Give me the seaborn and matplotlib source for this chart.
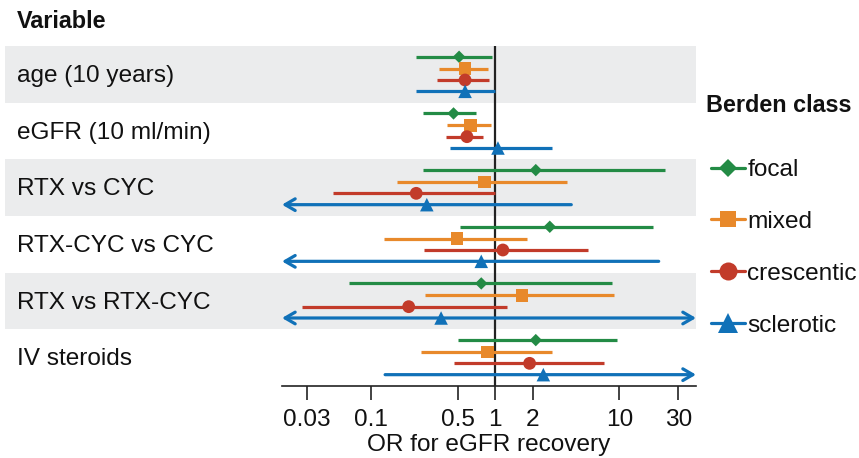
import numpy as np
import pandas as pd
import matplotlib
matplotlib.use("Agg")
import matplotlib.pyplot as plt
import matplotlib.transforms as mtransforms
from matplotlib.lines import Line2D
import seaborn as sns

# ---------------- data ----------------
variables = ["age (10 years)", "eGFR (10 ml/min)", "RTX vs CYC",
             "RTX-CYC vs CYC", "RTX vs RTX-CYC", "IV steroids"]
classes = ["focal", "mixed", "crescentic", "sclerotic"]

focal_or = [0.51, 0.46, 2.12, 2.75, 0.77, 2.12]
focal_lo = [0.23, 0.26, 0.26, 0.52, 0.066, 0.50]
focal_hi = [0.94, 0.70, 23.2, 18.6, 8.7, 9.5]

mixed_or = [0.57, 0.63, 0.82, 0.49, 1.64, 0.86]
mixed_lo = [0.35, 0.41, 0.16, 0.127, 0.27, 0.25]
mixed_hi = [0.87, 0.92, 3.8, 1.81, 9.1, 2.85]

cres_or = [0.57, 0.59, 0.23, 1.15, 0.20, 1.89]
cres_lo = [0.34, 0.40, 0.049, 0.265, 0.0275, 0.46]
cres_hi = [0.89, 0.79, 1.0, 5.6, 1.24, 7.6]

scl_or = [0.57, 1.05, 0.28, 0.77, 0.365, 2.44]
scl_lo = [0.23, 0.43, 0.005, 0.005, 0.005, 0.129]
scl_hi = [1.0, 2.85, 4.1, 20.8, 200.0, 200.0]

tick_values = [0.03, 0.1, 0.5, 1, 2, 10, 30]
tick_labels = ["0.03", "0.1", "0.5", "1", "2", "10", "30"]

# ---------------- style ----------------
colors = {"focal": "#238b45", "mixed": "#e8892b",
          "crescentic": "#c23b2a", "sclerotic": "#1071b8"}
markers = {"focal": "D", "mixed": "s", "crescentic": "o", "sclerotic": "^"}
sizes = {"focal": 40, "mixed": 85, "crescentic": 85, "sclerotic": 95}
offsets = {"focal": 0.19, "mixed": 0.40, "crescentic": 0.60, "sclerotic": 0.80}

sns.set_theme(style="white")
plt.rcParams["font.family"] = ["Liberation Sans", "DejaVu Sans"]
FS = 17.6
FSB = 16.8

series = {
    "focal": (focal_or, focal_lo, focal_hi),
    "mixed": (mixed_or, mixed_lo, mixed_hi),
    "crescentic": (cres_or, cres_lo, cres_hi),
    "sclerotic": (scl_or, scl_lo, scl_hi),
}
records = []
for cls in classes:
    ors, los, his = series[cls]
    for i, var in enumerate(variables):
        records.append(dict(variable=var, cls=cls, OR=ors[i], lo=los[i],
                            hi=his[i], y=i + offsets[cls]))
df = pd.DataFrame(records)

W, H = 859, 458
fig = plt.figure(figsize=(W / 100, H / 100), dpi=100)
ax_l, ax_r, ax_t, ax_b = 282, 696, 46, 386
ax = fig.add_axes([ax_l / W, 1 - ax_b / H, (ax_r - ax_l) / W, (ax_b - ax_t) / H])

XMIN, XMAX = 0.019, 41.6
ax.set_xscale("log")
ax.set_xlim(XMIN, XMAX)
ax.set_ylim(len(variables), 0)

# shaded bands (extend into label area)
band_xmin = (5 - ax_l) / (ax_r - ax_l)
for i in range(0, len(variables), 2):
    ax.axhspan(i, i + 1, xmin=band_xmin, xmax=1, color="#ebeced",
               clip_on=False, zorder=0, lw=0)

ax.axvline(1, color="#222222", lw=1.6, zorder=2)

# CI lines with arrows where truncated
for _, r in df.iterrows():
    col = colors[r.cls]
    a = max(r.lo, XMIN)
    b = min(r.hi, XMAX)
    left_cut = r.lo < XMIN
    right_cut = r.hi > XMAX
    if left_cut and right_cut:
        st = "<->"
    elif left_cut:
        st = "<-"
    elif right_cut:
        st = "->"
    else:
        st = None
    if st is None:
        ax.hlines(r.y, a, b, color=col, lw=2.3, zorder=3)
    else:
        ax.annotate("", xy=(b, r.y), xytext=(a, r.y),
                    arrowprops=dict(arrowstyle=st + ",head_length=0.6,head_width=0.35",
                                    color=col, lw=2.3, shrinkA=0, shrinkB=0),
                    annotation_clip=False, zorder=3)

sns.scatterplot(data=df, x="OR", y="y", hue="cls", style="cls", size="cls",
                palette=colors, markers=markers, sizes=sizes,
                hue_order=classes, style_order=classes, size_order=classes,
                linewidth=0, legend=False, ax=ax, zorder=4)

# axes cosmetics
for s in ["top", "right", "left"]:
    ax.spines[s].set_visible(False)
ax.spines["bottom"].set_color("#222222")
ax.spines["bottom"].set_linewidth(1.2)
ax.set_xticks(tick_values)
ax.set_xticklabels(tick_labels)
ax.xaxis.set_minor_locator(matplotlib.ticker.NullLocator())
ax.tick_params(axis="x", which="major", direction="out", length=10, width=1.2,
               color="#222222", pad=6.5, labelsize=FS, labelcolor="#111111",
               bottom=True)
ax.set_yticks([])
ax.set_ylabel("")
ax.set_xlabel("OR for eGFR recovery", fontsize=FS, color="#111111", labelpad=2)

# row labels
trans = mtransforms.blended_transform_factory(ax.transAxes, ax.transData)
lab_x = (17 - ax_l) / (ax_r - ax_l)
for i, var in enumerate(variables):
    ax.text(lab_x, i + 0.53, var, transform=trans, ha="left", va="center",
            fontsize=FS, color="#111111")

fig.text(17 / W, 1 - 21 / H, "Variable", ha="left", va="center",
         fontsize=FSB, fontweight="bold", color="#111111")

# legend
fig.text(706 / W, 1 - 105 / H, "Berden class", ha="left", va="center",
         fontsize=FSB, fontweight="bold", color="#111111")
handles = [Line2D([0], [0], color=colors[c], lw=2.3, marker=markers[c],
                  markersize={"focal": 9, "mixed": 12, "crescentic": 13, "sclerotic": 14}[c],
                  markeredgewidth=0)
           for c in classes]
fig.legend(handles, classes, loc="upper left",
           bbox_to_anchor=(711 / W, 1 - 159 / H), frameon=False,
           fontsize=FS, handlelength=1.38, handletextpad=0.1,
           labelspacing=1.22, borderpad=0, borderaxespad=0,
           labelcolor="#111111")

fig.savefig("out.png", dpi=100)
